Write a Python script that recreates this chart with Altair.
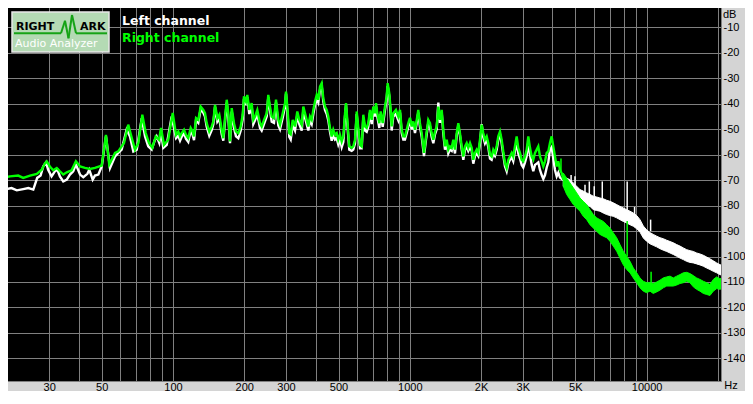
import altair as alt
import pandas as pd

# ---------------- data ----------------
right_low_f = [19, 20.5, 22.2, 23.3, 24.9, 26.6, 27.9, 28.8, 29.3, 30.2,
               31.2, 32.3, 33.3, 34.4, 35.6, 37.3, 38.9, 40.5, 42.5, 44.6,
               46.8, 50.0, 52.1, 53.8, 56.9, 58.7, 62.1, 64.7, 67.3, 69.1,
               71.4, 74.2, 76.7, 79.2, 81.8, 84.5, 87.3, 89.0, 91.6, 95.5,
               99.7, 103]
right_low_db = [-69.1, -68.5, -68.2, -69.1, -68.2, -67.5, -65.9, -63.3, -62.6, -64.6,
                -66.1, -65.2, -66.5, -67.8, -66.9, -66.1, -62.6, -64.6, -65.2, -65.6,
                -65.2, -64.3, -52.2, -63.9, -59.3, -58.7, -55.4, -48.2, -54.1, -58.0,
                -55.4, -44.3, -51.5, -55.4, -57.3, -52.8, -54.1, -49.5, -56.1, -54.1,
                -43.6, -52.2]

left_low_f = [19, 19.8, 20.8, 21.9, 23.3, 24.5, 25.7, 26.7, 27.6, 28.3,
              29.1, 29.7, 30.7, 31.7, 32.5, 33.3, 34.4, 35.6, 36.7, 37.9,
              38.9, 40.5, 41.8, 43.5, 44.3, 45.8, 46.8, 48.4, 50.0, 52.1,
              54.2, 56.9, 58.7, 60.7, 63.7, 65.8, 68.0, 70.3, 73.8, 76.2,
              78.6, 81.3, 83.9, 85.3, 87.5, 89.0, 91.0, 94.1, 98.7, 103]
left_low_db = [-73.7, -73.5, -73.1, -74.0, -73.5, -73.1, -73.7, -69.1, -68.2, -64.6,
               -63.0, -65.9, -68.5, -66.5, -65.9, -68.5, -70.5, -69.8, -67.8, -66.5,
               -63.9, -67.8, -68.8, -67.5, -65.9, -69.8, -68.2, -67.8, -64.6, -52.8,
               -65.2, -60.7, -59.3, -58.0, -50.2, -52.8, -58.7, -58.0, -45.6, -52.8,
               -56.7, -58.0, -54.1, -52.8, -55.4, -50.9, -57.3, -56.1, -45.0, -53.5]

mid_f = [105.3, 107.1, 108.8, 111.3, 113.5, 116.0, 118.8, 121.1, 122.7, 125.1,
         127.9, 130.9, 134.3, 136.5, 138.8, 142.3, 145.7, 148.0, 150.5, 153.9,
         156.9, 160.6, 163.1, 165.8, 168.6, 171.2, 174.1, 177.0, 181.0, 184.5,
         188.7, 193.2, 196.9, 199.4, 203.4, 206.0, 210.0, 214.9, 218.3, 222.0,
         227.0, 233.0, 236.9, 242.3, 248.7, 252.6, 256.8, 261.1, 267.0, 272.3,
         278.4, 283.1, 290.6, 297.2, 300.1, 303.9, 309.8, 314.1, 320.3, 327.5,
         334.9, 341.5, 349.6, 355.1, 361.0, 366.9, 372.8, 378.9, 385.3, 391.3,
         397.8, 404.5, 410.8, 417.7, 424.6, 431.2, 438.5, 445.8, 452.8, 460.3,
         468.0, 475.3, 483.3, 491.3, 498.9, 507.3, 515.8, 523.9, 532.6, 537.8,
         544.6, 555.3, 568.4, 577.3, 587.0, 596.8, 606.1, 616.2, 626.5, 636.3,
         646.9, 657.7, 668.0, 679.2, 690.6, 701.3, 713.0, 720.0, 729.2, 743.5,
         753.6, 768.5, 785.5, 798.6, 806.4, 819.1, 830.3, 838.3, 851.5, 874.1,
         894.3, 909.3, 924.5, 939.0, 954.3, 970.3, 985.6, 1002, 1019, 1035,
         1052, 1070, 1086, 1104, 1123, 1148, 1171, 1197, 1217, 1237,
         1257, 1278, 1299, 1320, 1341, 1364, 1385, 1408, 1432, 1454,
         1478, 1503, 1527, 1552, 1578, 1603, 1629, 1657, 1683, 1711,
         1739, 1766, 1796, 1826, 1854, 1885, 1916, 1946, 1979, 2012,
         2043, 2077, 2112, 2145, 2181, 2217, 2252, 2289, 2328, 2364,
         2404, 2443, 2482, 2523, 2566, 2606, 2649, 2694, 2735, 2781,
         2827, 2872, 2920, 2969, 3015, 3066, 3117, 3166, 3219, 3273,
         3323, 3379, 3435, 3489, 3547, 3606, 3663, 3724, 3786, 3846,
         3908, 3973, 4036, 4104, 4172, 4237, 4308, 4380, 4448]

right_mid_db = [-50.9, -52.8, -51.5, -50.2, -52.2, -53.5, -49.5, -50.9, -52.8, -45.6,
                -46.3, -41.1, -42.4, -43.7, -47.6, -50.9, -48.9, -46.9, -40.4, -45.6,
                -44.3, -50.2, -53.5, -45.6, -38.4, -43.7, -54.8, -41.7, -47.6, -50.9,
                -51.5, -48.9, -44.3, -37.1, -39.1, -36.5, -42.4, -39.7, -46.3, -45.0,
                -42.4, -47.6, -48.9, -46.3, -43.7, -36.5, -41.1, -45.0, -45.6, -38.4,
                -46.3, -48.2, -43.7, -39.7, -35.2, -41.1, -51.5, -52.0, -46.3, -48.9,
                -43.0, -46.3, -48.2, -41.1, -43.7, -46.3, -48.9, -45.0, -46.3, -42.4,
                -39.1, -36.5, -38.4, -33.2, -31.9, -37.8, -41.1, -42.4, -45.0, -49.5,
                -52.8, -50.2, -52.2, -51.5, -54.1, -52.2, -54.8, -52.8, -43.7, -39.7,
                -46.3, -56.7, -57.3, -56.7, -54.1, -43.0, -49.5, -56.1, -56.7, -44.3,
                -48.9, -49.5, -47.6, -42.4, -46.3, -41.1, -43.7, -39.7, -43.7, -47.6,
                -43.0, -47.6, -41.1, -37.1, -31.9, -35.8, -42.4, -48.9, -43.7, -42.4,
                -45.0, -42.4, -50.2, -52.8, -52.8, -50.2, -47.6, -45.5, -48.9, -46.9,
                -50.2, -46.3, -42.4, -47.6, -51.5, -59.3, -52.8, -46.3, -47.6, -51.5,
                -54.1, -50.9, -48.9, -41.1, -46.3, -42.4, -50.2, -56.7, -54.1, -58.0,
                -56.7, -57.3, -54.1, -58.0, -51.5, -47.6, -51.5, -56.7, -60.7, -56.7,
                -55.4, -57.3, -55.4, -57.3, -62.0, -59.3, -58.0, -59.3, -54.1, -48.2,
                -51.5, -54.1, -52.8, -55.4, -60.0, -60.7, -58.0, -59.3, -56.7, -52.8,
                -50.9, -54.1, -58.7, -63.3, -65.2, -62.0, -60.7, -59.3, -60.7, -56.7,
                -52.8, -57.3, -59.3, -62.0, -62.6, -60.7, -58.0, -52.8, -57.3, -60.7,
                -62.0, -59.3, -58.0, -56.7, -60.7, -62.6, -64.6, -62.6, -59.3, -58.7,
                -55.4, -52.8, -56.7, -60.7, -64.6, -62.6, -65.9, -67.2, -69.8]

left_mid_db = [-52.5, -54.5, -53.0, -51.5, -53.8, -55.0, -50.5, -52.3, -54.3, -46.5,
               -47.5, -42.0, -43.5, -45.0, -49.0, -52.5, -50.3, -48.0, -41.2, -47.0,
               -45.8, -52.0, -54.5, -47.0, -39.5, -45.5, -55.5, -43.0, -49.5, -52.8,
               -53.5, -50.5, -46.0, -38.0, -40.5, -37.5, -44.0, -41.0, -48.0, -46.5,
               -44.0, -49.5, -50.5, -48.0, -45.0, -37.5, -42.5, -47.0, -47.5, -39.5,
               -48.5, -50.0, -45.5, -41.0, -36.0, -43.0, -53.0, -54.0, -48.5, -50.5,
               -44.5, -48.0, -50.5, -42.5, -45.5, -48.0, -50.5, -46.5, -48.0, -44.0,
               -40.5, -38.0, -39.5, -34.5, -33.0, -39.0, -42.5, -44.0, -46.5, -51.0,
               -54.5, -52.0, -54.0, -53.5, -56.0, -54.0, -57.0, -55.0, -45.0, -40.5,
               -48.0, -58.0, -58.5, -58.0, -55.5, -44.0, -51.0, -57.5, -57.5, -45.5,
               -50.5, -51.0, -49.0, -43.5, -48.0, -42.5, -45.0, -41.0, -45.0, -49.5,
               -44.0, -49.0, -42.5, -38.0, -33.0, -37.0, -44.0, -50.5, -45.0, -44.0,
               -46.5, -43.5, -51.5, -54.0, -54.0, -51.5, -49.0, -46.5, -50.0, -48.0,
               -51.5, -47.5, -43.5, -49.0, -53.0, -60.5, -54.0, -47.5, -49.0, -53.0,
               -55.5, -52.0, -50.0, -39.5, -47.5, -43.5, -51.5, -58.0, -55.5, -59.5,
               -58.0, -58.5, -55.5, -59.5, -52.5, -48.5, -52.5, -58.0, -62.0, -58.0,
               -57.0, -58.5, -57.0, -58.5, -63.5, -60.5, -59.5, -60.5, -55.5, -48.0,
               -53.0, -55.5, -54.0, -57.0, -61.5, -62.0, -59.5, -60.5, -58.0, -54.0,
               -52.0, -55.5, -60.0, -64.5, -66.5, -63.5, -62.0, -61.0, -62.5, -58.5,
               -55.0, -59.5, -61.5, -64.0, -65.0, -63.0, -60.5, -55.0, -60.0, -64.0,
               -66.5, -64.0, -63.5, -63.0, -66.0, -68.0, -69.5, -68.0, -65.0, -63.0,
               -58.0, -57.0, -61.5, -66.0, -68.5, -67.0, -69.0, -69.5, -70.0]

band_f = [4448, 4597, 4750, 4904, 5068, 5234, 5405, 5585, 5768, 5957,
          6152, 6353, 6561, 6783, 7004, 7233, 7475, 7720, 7971, 8241,
          8511, 8790, 9084, 9380, 9686, 10000, 10338, 10670, 11030, 11390,
          11760, 12160, 12560, 12970, 13400, 13840, 14290, 14770, 15250, 15750,
          16270, 16810, 17360, 17940, 18520, 19130, 19770, 20420, 21090, 21700]
right_band_hi = [-67.2, -69.2, -71.1, -73.0, -75.0, -77.0, -78.3, -79.6, -81.6, -83.5,
                 -84.8, -85.5, -86.2, -87.5, -88.8, -90.7, -92.6, -95.3, -97.9, -99.9,
                 -101.9, -104.5, -106.4, -108.4, -109.7, -110.3, -110.3, -110.6, -110.0, -109.3,
                 -108.4, -108.0, -107.7, -108.4, -107.7, -107.1, -106.4, -106.2, -106.7, -107.5,
                 -108.4, -109.0, -109.7, -110.3, -111.0, -109.0, -108.0, -108.8, -107.7, -108.4]
right_band_lo = [-72.4, -75.6, -77.6, -79.6, -80.9, -82.2, -84.2, -85.5, -87.5, -88.8,
                 -90.1, -91.3, -92.0, -92.6, -94.0, -95.9, -97.9, -100.6, -103.2, -105.1,
                 -106.4, -108.4, -110.3, -112.3, -113.6, -114.2, -113.6, -114.5, -113.9, -113.2,
                 -112.3, -111.6, -111.6, -111.6, -111.2, -110.6, -110.3, -109.7, -110.3, -111.9,
                 -112.9, -113.6, -114.5, -114.9, -115.3, -113.6, -112.6, -112.9, -112.3, -112.6]
left_band_hi = [-68.5, -69.2, -69.8, -71.1, -72.4, -73.7, -74.3, -75.0, -75.6, -76.3,
                -76.6, -77.0, -77.3, -77.9, -78.3, -78.9, -79.6, -80.3, -80.9, -81.6,
                -82.2, -82.9, -83.9, -85.5, -88.0, -89.5, -90.6, -91.3, -92.0, -92.6,
                -93.0, -93.6, -94.1, -94.6, -95.3, -95.9, -96.6, -97.3, -97.7, -98.0,
                -98.6, -99.0, -99.5, -100.2, -100.9, -101.7, -102.5, -103.2, -103.6, -104.1]
left_band_lo = [-72.4, -73.0, -74.3, -75.6, -76.3, -77.6, -78.9, -79.6, -80.3, -81.6,
                -81.9, -82.2, -82.9, -83.5, -83.9, -84.2, -84.8, -85.5, -86.2, -86.8,
                -87.5, -88.1, -89.1, -90.4, -92.7, -94.0, -95.0, -95.6, -96.2, -96.9,
                -97.5, -98.0, -98.6, -99.2, -99.9, -100.6, -101.2, -101.9, -102.3, -102.5,
                -102.9, -103.3, -103.8, -104.5, -105.1, -105.8, -106.4, -107.1, -107.5, -107.7]

left_spike_f = [4800, 4985, 5495, 5730, 6010, 6500, 8280, 8900, 10400]
left_spike_top = [-68.0, -68.5, -71.8, -70.5, -72.4, -70.5, -70.5, -80.5, -85.5]
left_spike_base = [-72.0, -73.0, -75.5, -76.0, -77.0, -77.5, -82.0, -84.0, -90.0]
right_spike_f = [4350, 8280, 10450]
right_spike_top = [-61.5, -86.0, -106.0]
right_spike_base = [-67.0, -100.0, -110.5]

x_grid = [20, 30, 40, 50, 60, 70, 80, 90, 100, 200, 300, 400, 500, 600, 700, 800, 900,
          1000, 2000, 3000, 4000, 5000, 6000, 7000, 8000, 9000, 10000, 20000]
x_label_vals = [30, 50, 100, 200, 300, 500, 1000, 2000, 3000, 5000, 10000]
x_label_text = ["30", "50", "100", "200", "300", "500", "1000", "2K", "3K", "5K", "10000"]
y_grid = [0, -10, -20, -30, -40, -50, -60, -70, -80, -90, -100, -110, -120, -130, -140]
legend_names = ["Left channel", "Right channel"]
legend_colors = ["#ffffff", "#00ff00"]


def frame(cols):
    n = min(len(v) for v in cols.values())
    return pd.DataFrame({k: list(v)[:n] for k, v in cols.items()})


left_df = frame({"f": left_low_f + mid_f, "db": left_low_db + left_mid_db})
right_df = frame({"f": right_low_f + mid_f, "db": right_low_db + right_mid_db})
left_band = frame({"f": band_f, "hi": left_band_hi, "lo": left_band_lo})
right_band = frame({"f": band_f, "hi": right_band_hi, "lo": right_band_lo})
left_spk = frame({"f": left_spike_f, "top": left_spike_top, "base": left_spike_base})
right_spk = frame({"f": right_spike_f, "top": right_spike_top, "base": right_spike_base})

GRID = "#808080"
FONT = "Liberation Sans"
PLOT_W, PLOT_H = 719, 379

x_expr = "".join(f"datum.value == {v} ? '{t}' : " for v, t in zip(x_label_vals, x_label_text)) + "''"
y_expr = "datum.value <= -10 && datum.value >= -140 ? '' + datum.value : ''"

x_axis = alt.Axis(values=x_grid, labelExpr=x_expr, grid=True, gridColor=GRID, gridOpacity=1,
                  gridWidth=1, ticks=False, domain=False, labelFont=FONT, labelFontSize=11,
                  labelColor="black", labelPadding=0, labelOverlap=False, labelFlush=False,
                  labelBound=False, title=None)
y_axis = alt.Axis(orient="right", values=y_grid, labelExpr=y_expr, grid=True, gridColor=GRID,
                  gridOpacity=1, gridWidth=1, ticks=False, domain=False, labelFont=FONT,
                  labelFontSize=11, labelColor="black", labelAlign="left", labelBaseline="middle",
                  labelPadding=2, labelOverlap=False, labelFlush=False, labelBound=False, title=None)

xs = alt.Scale(type="log", domain=[18.96, 20620], nice=False)
ys = alt.Scale(domain=[-148.9, 0], nice=False)


def X(field):
    return alt.X(f"{field}:Q", scale=xs, axis=x_axis)


def Y(field):
    return alt.Y(f"{field}:Q", scale=ys, axis=y_axis)


def trace(df, color):
    return alt.Chart(df).mark_line(color=color, strokeWidth=2.4, clip=True).encode(x=X("f"), y=Y("db"))


def band(df, color):
    return alt.Chart(df).mark_area(color=color, opacity=1, clip=True,
                                   stroke=color, strokeWidth=1).encode(x=X("f"), y=Y("hi"), y2="lo")


def spikes(df, color):
    return alt.Chart(df).mark_rule(color=color, strokeWidth=1.5, clip=True).encode(
        x=X("f"), y=Y("top"), y2="base")


one = pd.DataFrame({"t": [""]})


def label(text, x, y, **kw):
    return alt.Chart(pd.DataFrame({"t": [text]})).mark_text(baseline="middle", **kw).encode(
        text="t:N", x=alt.value(x), y=alt.value(y))


layers = [
    trace(left_df, "#ffffff"), band(left_band, "#ffffff"), spikes(left_spk, "#ffffff"),
    trace(right_df, "#00ff00"), band(right_band, "#00ff00"), spikes(right_spk, "#00ff00"),
]

# RightMark logo box
layers.append(alt.Chart(one).mark_rect(fill="#b4dab4", stroke="#e8e8e8", strokeWidth=1.5).encode(
    x=alt.value(10), x2=alt.value(107), y=alt.value(10), y2=alt.value(50)))
logo_x = [12, 59, 63, 66.5, 70, 74, 105]
logo_y = [31.3, 31.3, 18.7, 36.3, 13, 31.3, 31.3]
for i in range(len(logo_x) - 1):
    layers.append(alt.Chart(one).mark_rule(color="#16a316", strokeWidth=2).encode(
        x=alt.value(logo_x[i]), x2=alt.value(logo_x[i + 1]),
        y=alt.value(logo_y[i]), y2=alt.value(logo_y[i + 1])))
layers.append(label("RIGHT", 14, 25, align="left", font="DejaVu Sans", fontSize=11,
                    fontWeight="bold", color="#000000"))
layers.append(label("ARK", 78, 25, align="left", font="DejaVu Sans", fontSize=11,
                    fontWeight="bold", color="#000000"))
layers.append(label("Audio Analyzer", 13, 42, align="left", font="DejaVu Sans", fontSize=11,
                    color="#ffffff"))

# legend texts
layers.append(label(legend_names[0], 120, 19, align="left", font="DejaVu Sans", fontSize=12.5,
                    fontWeight="bold", color=legend_colors[0]))
layers.append(label(legend_names[1], 120, 36, align="left", font="DejaVu Sans", fontSize=12.5,
                    fontWeight="bold", color=legend_colors[1]))

# unit labels
layers.append(label("dB", PLOT_W + 2, 13, align="left", font=FONT, fontSize=11, color="#000000"))
layers.append(label("Hz", PLOT_W + 10, PLOT_H + 5, align="center", font=FONT, fontSize=11,
                    color="#000000"))

chart = alt.layer(*layers).properties(
    width=PLOT_W, height=PLOT_H, background="#d4d4d4",
    padding={"left": -6, "top": -6, "right": 24, "bottom": 10},
    autosize=alt.AutoSizeParams(type="none"),
).configure_view(fill="black", stroke=GRID, strokeWidth=1)

chart.save("out.html", embed_options={"renderer": "svg", "actions": False})
